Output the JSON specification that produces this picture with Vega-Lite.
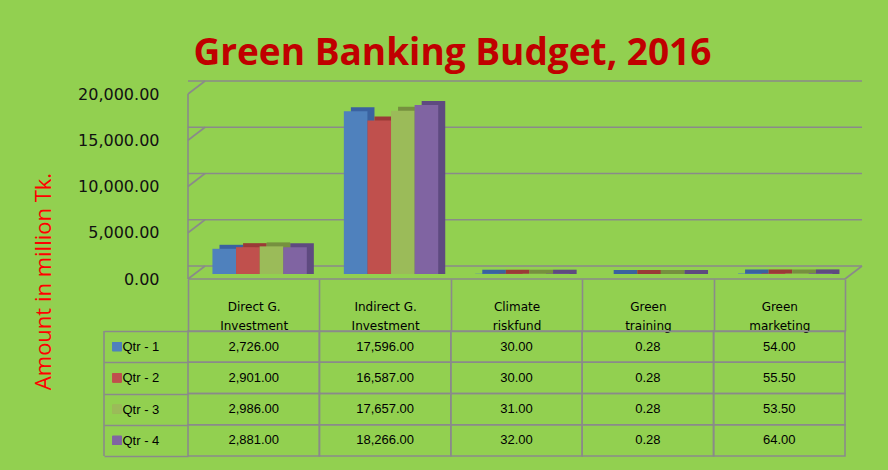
{
  "$schema": "https://vega.github.io/schema/vega-lite/v6.json",
  "background": "#92D050",
  "padding": {"left": 32, "top": 35, "right": 28, "bottom": 14},
  "title": {"text": "Green Banking Budget, 2016", "color": "#C00000", "font": "Open Sans", "fontSize": 37, "fontWeight": "bold", "anchor": "middle", "offset": 7, "dx": 5},
  "datasets": {
    "budget": [
      {"category": "Direct G. Investment", "quarter": "Qtr - 1", "value": 2726},
      {"category": "Direct G. Investment", "quarter": "Qtr - 2", "value": 2901},
      {"category": "Direct G. Investment", "quarter": "Qtr - 3", "value": 2986},
      {"category": "Direct G. Investment", "quarter": "Qtr - 4", "value": 2881},
      {"category": "Indirect G. Investment", "quarter": "Qtr - 1", "value": 17596},
      {"category": "Indirect G. Investment", "quarter": "Qtr - 2", "value": 16587},
      {"category": "Indirect G. Investment", "quarter": "Qtr - 3", "value": 17657},
      {"category": "Indirect G. Investment", "quarter": "Qtr - 4", "value": 18266},
      {"category": "Climate riskfund", "quarter": "Qtr - 1", "value": 30},
      {"category": "Climate riskfund", "quarter": "Qtr - 2", "value": 30},
      {"category": "Climate riskfund", "quarter": "Qtr - 3", "value": 31},
      {"category": "Climate riskfund", "quarter": "Qtr - 4", "value": 32},
      {"category": "Green training", "quarter": "Qtr - 1", "value": 0.28},
      {"category": "Green training", "quarter": "Qtr - 2", "value": 0.28},
      {"category": "Green training", "quarter": "Qtr - 3", "value": 0.28},
      {"category": "Green training", "quarter": "Qtr - 4", "value": 0.28},
      {"category": "Green marketing", "quarter": "Qtr - 1", "value": 54},
      {"category": "Green marketing", "quarter": "Qtr - 2", "value": 55.5},
      {"category": "Green marketing", "quarter": "Qtr - 3", "value": 53.5},
      {"category": "Green marketing", "quarter": "Qtr - 4", "value": 64}
    ],
    "grid": [{"v": 0}, {"v": 5000}, {"v": 10000}, {"v": 15000}, {"v": 20000}]
  },
  "config": {"view": {"stroke": null}},
  "bounds": "flush",
  "spacing": 57,
  "resolve": {"scale": {"x": "independent", "y": "independent"}},
  "vconcat": [
    {
      "width": 657,
      "height": 185,
      "resolve": {"scale": {"xOffset": "independent"}},
      "layer": [
        {
          "data": {"name": "grid"},
          "mark": {"type": "rule", "color": "#8A8A8A", "strokeWidth": 1.6, "xOffset": 17, "x2Offset": 17, "yOffset": -8},
          "encoding": {
            "y": {"field": "v", "type": "quantitative", "scale": {"domain": [0, 20000], "nice": false},
              "axis": {"title": "Amount in million Tk.", "values": [0, 5000, 10000, 15000, 20000], "format": ",.2f", "grid": false, "domain": false, "ticks": false,
                "labelPadding": 29, "labelOffset": 5, "labelFont": "DejaVu Sans", "labelFontSize": 16, "labelColor": "#111111",
                "titleFont": "Open Sans", "titleFontSize": 22, "titleColor": "#FF0000", "titleFontWeight": "normal",
                "titleX": -145, "titleY": 192, "titleAngle": 270, "titleAlign": "center", "titleBaseline": "middle"}}
          }
        },
        {
          "data": {"name": "grid"},
          "mark": {"type": "rule", "color": "#8A8A8A", "strokeWidth": 1.6, "x2Offset": 17, "yOffset": 5, "y2Offset": -8},
          "encoding": {
            "x": {"datum": "Direct G. Investment", "type": "nominal", "bandPosition": 0, "axis": null,
              "scale": {"domain": ["Direct G. Investment", "Indirect G. Investment", "Climate riskfund", "Green training", "Green marketing"], "paddingInner": 0, "paddingOuter": 0}},
            "x2": {"datum": "Direct G. Investment", "bandPosition": 0},
            "y": {"field": "v", "type": "quantitative"},
            "y2": {"field": "v"}
          }
        },
        {
          "data": {"values": [{}]},
          "mark": {"type": "rule", "color": "#8A8A8A", "strokeWidth": 1.6, "yOffset": 5, "y2Offset": 5},
          "encoding": {
            "x": {"datum": "Direct G. Investment", "type": "nominal", "bandPosition": 0, "axis": null},
            "y": {"datum": 20000, "type": "quantitative"},
            "y2": {"datum": 0}
          }
        },
        {
          "data": {"values": [{}]},
          "mark": {"type": "rule", "color": "#8A8A8A", "strokeWidth": 1.6, "yOffset": 5},
          "encoding": {
            "y": {"datum": 0, "type": "quantitative"}
          }
        },
        {
          "data": {"values": [{}]},
          "mark": {"type": "rule", "color": "#8A8A8A", "strokeWidth": 1.6, "x2Offset": 17, "yOffset": 5, "y2Offset": -8},
          "encoding": {
            "x": {"datum": "Green marketing", "type": "nominal", "bandPosition": 1, "axis": null},
            "x2": {"datum": "Green marketing", "bandPosition": 1},
            "y": {"datum": 0, "type": "quantitative"},
            "y2": {"datum": 0}
          }
        },
        {
          "data": {"name": "budget"},
          "mark": {"type": "bar", "yOffset": -4, "y2Offset": 0},
          "encoding": {
            "x": {"field": "category", "type": "nominal", "axis": null},
            "xOffset": {"field": "quarter", "type": "nominal", "scale": {"paddingInner": 0, "paddingOuter": 0.785, "align": 0.85}},
            "y": {"field": "value", "type": "quantitative"},
            "y2": {"datum": 0},
            "fill": {"field": "quarter", "type": "nominal", "legend": null,
              "scale": {"domain": ["Qtr - 1", "Qtr - 2", "Qtr - 3", "Qtr - 4"], "range": ["#3A62A0", "#9A3A37", "#76903F", "#5E4A80"]}}
          }
        },
        {
          "data": {"name": "budget"},
          "mark": {"type": "bar"},
          "encoding": {
            "x": {"field": "category", "type": "nominal", "axis": null},
            "xOffset": {"field": "quarter", "type": "nominal", "scale": {"paddingInner": 0, "paddingOuter": 0.785, "align": 0.66}},
            "y": {"field": "value", "type": "quantitative"},
            "color": {"field": "quarter", "type": "nominal", "legend": null,
              "scale": {"domain": ["Qtr - 1", "Qtr - 2", "Qtr - 3", "Qtr - 4"], "range": ["#4F81BD", "#C0504D", "#9BBB59", "#8064A2"]}}
          }
        }
      ]
    },
    {
      "width": 657,
      "height": 125,
      "layer": [
        {
          "data": {"name": "budget"},
          "mark": {"type": "rect", "fillOpacity": 0, "fill": "#92D050", "stroke": "#8A8A8A", "strokeWidth": 1.6},
          "encoding": {
            "x": {"field": "category", "type": "nominal", "scale": {"domain": ["Direct G. Investment", "Indirect G. Investment", "Climate riskfund", "Green training", "Green marketing"], "paddingInner": 0, "paddingOuter": 0},
              "axis": {"orient": "top", "title": null, "domain": true, "domainColor": "#8A8A8A", "domainWidth": 1.6,
                "ticks": true, "tickBand": "extent", "tickSize": 52, "tickColor": "#8A8A8A", "tickWidth": 1.6,
                "labelAngle": 0, "labelExpr": "indexof(datum.label, 'Investment') > 0 ? [replace(datum.label, ' Investment', ''), 'Investment'] : split(datum.label, ' ')",
                "labelPadding": -34, "labelBaseline": "bottom", "labelLineHeight": 19, "labelFont": "DejaVu Sans", "labelFontSize": 12, "labelColor": "#000000", "labelOverlap": false}},
            "y": {"field": "quarter", "type": "nominal", "sort": null, "scale": {"paddingInner": 0, "paddingOuter": 0},
              "axis": {"orient": "left", "title": null, "domain": false, "ticks": true, "tickBand": "extent", "tickSize": 84, "tickColor": "#8A8A8A", "tickWidth": 1.6,
                "labelAlign": "left", "labelPadding": -18, "labelFont": "Liberation Sans", "labelFontSize": 13, "labelColor": "#000000"}}
          }
        },
        {
          "data": {"name": "budget"},
          "mark": {"type": "text", "font": "Liberation Sans", "fontSize": 13, "color": "#000000", "baseline": "middle"},
          "encoding": {
            "x": {"field": "category", "type": "nominal"},
            "y": {"field": "quarter", "type": "nominal", "sort": null},
            "text": {"field": "value", "type": "quantitative", "format": ",.2f"}
          }
        },
        {
          "data": {"values": [{}]},
          "mark": {"type": "rule", "color": "#8A8A8A", "strokeWidth": 1.6, "xOffset": -84},
          "encoding": {
            "x": {"datum": "Direct G. Investment", "type": "nominal", "bandPosition": 0}
          }
        },
        {
          "data": {"name": "budget"},
          "mark": {"type": "point", "shape": "square", "filled": true, "opacity": 1, "size": 81, "xOffset": -71},
          "encoding": {
            "x": {"datum": "Direct G. Investment", "type": "nominal", "bandPosition": 0},
            "y": {"field": "quarter", "type": "nominal", "sort": null},
            "color": {"field": "quarter", "type": "nominal", "legend": null}
          }
        }
      ]
    }
  ]
}
